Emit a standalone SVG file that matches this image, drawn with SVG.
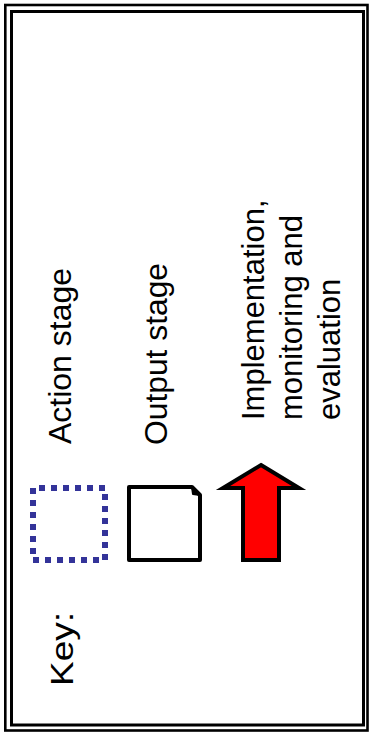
<svg xmlns="http://www.w3.org/2000/svg" width="372" height="732" viewBox="0 0 372 732">
<style>
  .lbl { font-family: "Liberation Sans", Arial, sans-serif; font-size: 32px; fill: #000; }
  .impl { font-size: 31px; }
  .frame { fill: none; stroke: #000; }
</style>
<rect width="372" height="732" fill="#fff"/>
<g id="frame">
  <rect class="frame" x="5.3" y="5" width="362.2" height="725.5" stroke-width="2.6"/>
  <rect class="frame" x="11.5" y="11.5" width="352" height="713.5" stroke-width="3"/>
</g>
<g id="key-title">
  <text class="lbl" transform="translate(73,686) rotate(-90)" textLength="74" lengthAdjust="spacingAndGlyphs">Key:</text>
</g>
<g id="action-stage">
  <rect x="33" y="488" width="72" height="72" fill="none" stroke="#333399" stroke-width="6" stroke-dasharray="6 6" stroke-dashoffset="6"/>
  <text class="lbl" transform="translate(71,444) rotate(-90)" textLength="176" lengthAdjust="spacingAndGlyphs">Action stage</text>
</g>
<g id="output-stage">
  <path d="M129,487 H192 L200,495 V560 H129 Z" fill="#fff" stroke="#000" stroke-width="4" stroke-linejoin="round"/>
  <path d="M192,487 L193,494 L200,495 Z" fill="#000" stroke="#000" stroke-width="2" stroke-linejoin="round"/>
  <text class="lbl" transform="translate(167,445) rotate(-90)" textLength="182" lengthAdjust="spacingAndGlyphs">Output stage</text>
</g>
<g id="implementation">
  <polygon points="261,465 299,488 279,488 279,560 243,560 243,488 223,488" fill="#ff0000" stroke="#000" stroke-width="4" stroke-linejoin="miter"/>
  <text class="lbl impl" transform="translate(0,420) rotate(-90)"><tspan x="0" y="264">Implementation,</tspan><tspan x="0" y="302">monitoring and</tspan><tspan x="0" y="340">evaluation</tspan></text>
</g>
<g id="connectors"></g>
</svg>
